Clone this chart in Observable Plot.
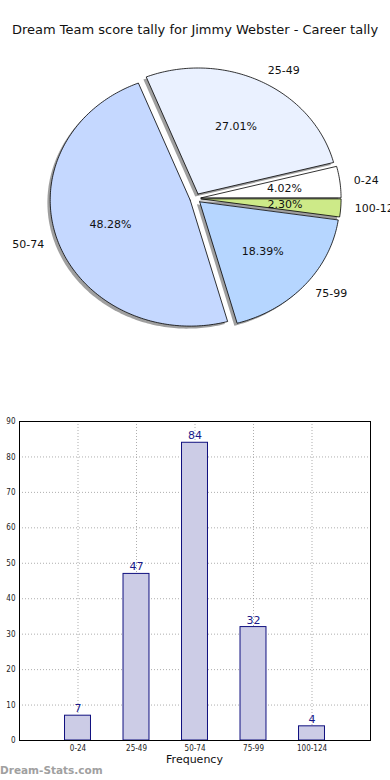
<!DOCTYPE html>
<html>
<head>
<meta charset="utf-8">
<script src="https://cdn.jsdelivr.net/npm/d3@7"></script>
<script src="https://cdn.jsdelivr.net/npm/@observablehq/plot@0.6"></script>
<style>
  html, body { margin: 0; padding: 0; background: #fff; }
  #wrap { position: relative; width: 390px; height: 780px; overflow: hidden; font-family: "DejaVu Sans", sans-serif; }
  #title { position: absolute; left: 0; width: 390px; top: 22px; text-align: center; font-size: 13px; line-height: 16px; color: #111; white-space: nowrap; }
  #pie { position: absolute; left: 0; top: 0; }
  #bar { position: absolute; left: 0; top: 400px; }
  #xlabel { position: absolute; left: 19px; width: 351px; top: 753px; text-align: center; font-size: 11px; line-height: 14px; color: #111; }
  #footer { position: absolute; left: 0; top: 763px; font-size: 10.5px; line-height: 14px; font-weight: bold; color: #a0a0a0; }
</style>
</head>
<body>
<div id="wrap">
  <div id="pie"></div>
  <div id="title">Dream Team score tally for Jimmy Webster - Career tally</div>
  <div id="bar"></div>
  <div id="xlabel">Frequency</div>
  <div id="footer">Dream-Stats.com</div>
</div>
<script>
// ---- data ----
const categories = ["0-24", "25-49", "50-74", "75-99", "100-124"];
const counts = [7, 47, 84, 32, 4];
const yTicks = [0, 10, 20, 30, 40, 50, 60, 70, 80, 90];

// ---- pie geometry (matplotlib style: start at east, counter-clockwise) ----
const total = d3.sum(counts);
const explode = 0.04;
const shadowOff = -0.02;
const slicePts = [];
const shadowPts = [];
const labelRows = [];
let cum = 0;
categories.forEach((cat, i) => {
  const a0 = 2 * Math.PI * cum / total;
  const a1 = 2 * Math.PI * (cum + counts[i]) / total;
  cum += counts[i];
  const am = (a0 + a1) / 2;
  const ox = explode * Math.cos(am), oy = explode * Math.sin(am);
  const n = Math.max(2, Math.ceil((a1 - a0) / (Math.PI / 180)));
  const pts = [[ox, oy]];
  for (let k = 0; k <= n; k++) {
    const a = a0 + (a1 - a0) * k / n;
    pts.push([ox + Math.cos(a), oy + Math.sin(a)]);
  }
  pts.push([ox, oy]);
  pts.forEach(([x, y]) => {
    slicePts.push({cat, x, y});
    shadowPts.push({cat, x: x + shadowOff, y: y + shadowOff});
  });
  labelRows.push({
    cat,
    pct: (100 * counts[i] / total).toFixed(2) + "%",
    lx: ox + 1.1 * Math.cos(am), ly: oy + 1.1 * Math.sin(am),
    px: ox + 0.6 * Math.cos(am), py: oy + 0.6 * Math.sin(am)
  });
});

const cx = 195, cy = 198, rx = 140, ry = 126;
const piePlot = Plot.plot({
  width: 390, height: 360,
  style: {fontFamily: "DejaVu Sans", fontSize: "11px", background: "transparent", overflow: "visible"},
  x: {domain: [-1, 1], range: [cx - rx, cx + rx], axis: null},
  y: {domain: [-1, 1], range: [cy + ry, cy - ry], axis: null},
  color: {domain: categories, range: ["#ffffff", "#eaf1ff", "#c5d8ff", "#b6d6ff", "#cdea88"]},
  marks: [
    Plot.line(shadowPts, {x: "x", y: "y", z: "cat", fill: "#404040", fillOpacity: 0.5, stroke: "none"}),
    Plot.line(slicePts, {x: "x", y: "y", z: "cat", fill: "cat", stroke: "#000", strokeWidth: 0.8}),
    Plot.text(labelRows, {filter: d => d.lx > 0, x: "lx", y: "ly", text: "cat", textAnchor: "start", fill: "#111", fontSize: 11}),
    Plot.text(labelRows, {filter: d => d.lx <= 0, x: "lx", y: "ly", text: "cat", textAnchor: "end", fill: "#111", fontSize: 11}),
    Plot.text(labelRows, {x: "px", y: "py", text: "pct", textAnchor: "middle", fill: "#111", fontSize: 11})
  ]
});
document.getElementById("pie").append(piePlot);

// ---- bar chart ----
const barData = categories.map((cat, i) => ({cat, count: counts[i]}));
const barPlot = Plot.plot({
  width: 390, height: 370,
  marginLeft: 19, marginRight: 20, marginTop: 21, marginBottom: 30,
  style: {fontFamily: "DejaVu Sans", fontSize: "11px", background: "transparent", overflow: "visible"},
  x: {domain: categories, paddingInner: 0.556, paddingOuter: 0.778, round: false, label: null},
  y: {domain: [0, 90], label: null},
  marks: [
    Plot.gridY(yTicks, {stroke: "#9a9a9a", strokeOpacity: 0.8, strokeDasharray: "1,2"}),
    Plot.gridX({stroke: "#9a9a9a", strokeOpacity: 0.8, strokeDasharray: "1,2"}),
    Plot.barY(barData, {x: "cat", y: "count", fill: "#ccccE6", stroke: "#10107f", strokeWidth: 1}),
    Plot.text(barData, {x: "cat", y: "count", text: d => String(d.count), dy: -7, fill: "#1a1a8a", fontSize: 11}),
    Plot.frame({stroke: "#000", strokeWidth: 1}),
    Plot.axisY(yTicks, {tickSize: 0, tickPadding: 4, fontSize: 8, fontFamily: "DejaVu Sans Condensed", fill: "#222", label: null}),
    Plot.axisX({tickSize: 0, tickPadding: 5, fontSize: 8, fontFamily: "DejaVu Sans Condensed", fill: "#222", label: null})
  ]
});
document.getElementById("bar").append(barPlot);
</script>
</body>
</html>
